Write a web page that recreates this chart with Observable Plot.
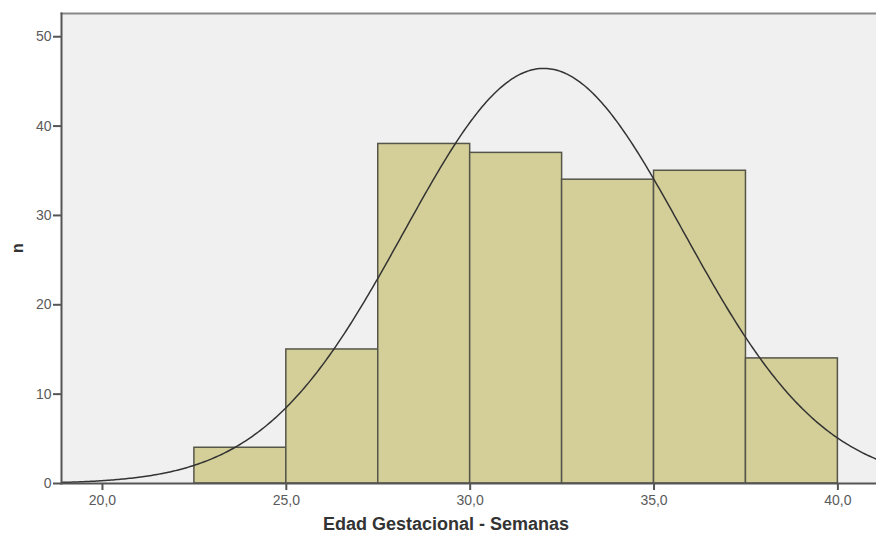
<!DOCTYPE html>
<html><head><meta charset="utf-8">
<script src="https://cdn.jsdelivr.net/npm/d3@7"></script>
<script src="https://cdn.jsdelivr.net/npm/@observablehq/plot@0.6"></script>
<style>
body{margin:0;background:#fff;}
#chart{position:absolute;left:0;top:0;}
</style>
</head><body><div id="chart"></div>
<script>
const binStart = [22.5, 25.0, 27.5, 30.0, 32.5, 35.0, 37.5];
const binEnd   = [25.0, 27.5, 30.0, 32.5, 35.0, 37.5, 40.0];
const counts   = [4, 15, 38, 37, 34, 35, 14];
const xTicks = [20, 25, 30, 35, 40];
const yTicks = [0, 10, 20, 30, 40, 50];
const fitMean = 32.0;
const fitSd = 3.8;

const bars = binStart.map((s, i) => ({x1: s, x2: binEnd[i], n: counts[i]}));
const N = d3.sum(counts);
const bw = 2.5;
const xDomain = [18.886, 41.05];
const curve = d3.range(xDomain[0], xDomain[1] + 0.05, 0.05).map(x => ({
  x, y: N * bw / (fitSd * Math.sqrt(2 * Math.PI)) * Math.exp(-0.5 * ((x - fitMean) / fitSd) ** 2)
}));
const fmt = d => d.toFixed(1).replace(".", ",");
const font = "Arial, 'Liberation Sans', sans-serif";

const chart = Plot.plot({
  width: 876, height: 535,
  marginLeft: 61, marginTop: 13, marginRight: 0, marginBottom: 52,
  style: {fontFamily: font, fontSize: "14px", color: "#555", background: "#fff"},
  x: {domain: xDomain, label: null},
  y: {domain: [0, 52.6], label: null},
  marks: [
    Plot.frame({fill: "#f0f0f0", stroke: null}),
    Plot.rectY(bars, {x1: "x1", x2: "x2", y: "n", fill: "#d4cf98", stroke: "#55554a", strokeWidth: 1.5}),
    Plot.line(curve, {x: "x", y: "y", stroke: "#333", strokeWidth: 1.5, clip: true}),
    Plot.frame({anchor: "top", stroke: "#888", strokeWidth: 2}),
    Plot.frame({anchor: "left", stroke: "#555", strokeWidth: 2}),
    Plot.frame({anchor: "bottom", stroke: "#555", strokeWidth: 2}),
    Plot.axisX({ticks: xTicks, tickFormat: fmt, tickSize: 7, tickPadding: 5, stroke: "#555", strokeWidth: 2, fill: "#5a5a5a", fontSize: 14, label: null}),
    Plot.axisY({ticks: yTicks, tickSize: 8, tickPadding: 2, stroke: "#555", strokeWidth: 2, fill: "#5a5a5a", fontSize: 14, label: null})
  ]
});
document.getElementById("chart").appendChild(chart);

const svg = d3.select(chart);
svg.append("text").attr("x", 446).attr("y", 530).attr("text-anchor", "middle")
  .attr("font-weight", "bold").attr("font-size", "18px").attr("fill", "#333")
  .attr("font-family", font)
  .text("Edad Gestacional - Semanas");
svg.append("text").attr("transform", "translate(23,248) rotate(-90)").attr("text-anchor", "middle")
  .attr("font-weight", "bold").attr("font-size", "16px").attr("fill", "#333")
  .attr("font-family", font)
  .text("n");
</script>
</body></html>
